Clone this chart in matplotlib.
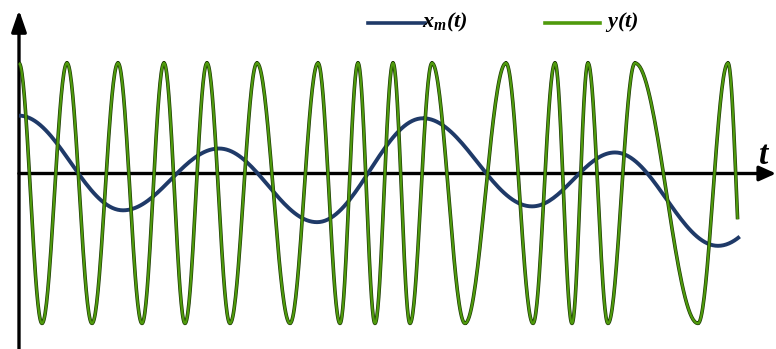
import numpy as np
import matplotlib
matplotlib.use("Agg")
import matplotlib.pyplot as plt
from matplotlib.lines import Line2D

# ---- data (time units, signal units; axis at 0) ----
# modulated signal y(t): times of successive extrema (top, bottom, top, ...)
green_ext_t = [0, 23, 48, 73, 99, 123, 145, 166, 188, 211, 238, 271, 299, 321,
               339, 356, 374, 391, 413, 446, 487, 514, 536, 553, 569, 589, 616,
               679, 709, 726]
green_top = 0.84
green_bottom = -1.14
green_t_end = 719

# message signal x_m(t): extrema times and values
blue_ext_t = [0, 104, 200, 298, 404, 513, 596, 699, 805]
blue_ext_v = [0.44, -0.28, 0.19, -0.37, 0.42, -0.25, 0.16, -0.55, 0.15]
blue_t_end = 721

legend_labels = [r"$\mathbfit{x_{m}(t)}$", r"$\mathbfit{y(t)}$"]
axis_label = r"$\mathbfit{t}$"

BLUE = "#1f3a68"
GREEN = "#4f9a0c"
EDGE = "#1d3a06"

plt.rcParams["mathtext.fontset"] = "custom"
plt.rcParams["mathtext.rm"] = "Liberation Serif"
plt.rcParams["mathtext.it"] = "Liberation Serif:italic"
plt.rcParams["mathtext.bf"] = "Liberation Serif:bold"
plt.rcParams["mathtext.bfit"] = "Liberation Serif:italic:bold"


def half_cos_curve(ext_t, ext_v, t_end, n=40):
    ts, vs = [], []
    for i in range(len(ext_t) - 1):
        t0, t1 = ext_t[i], ext_t[i + 1]
        v0, v1 = ext_v[i], ext_v[i + 1]
        s = np.linspace(0, 1, n)
        tt = t0 + (t1 - t0) * s
        vv = v0 + (v1 - v0) * (1 - np.cos(np.pi * s)) / 2
        ts.append(tt)
        vs.append(vv)
    t = np.concatenate(ts)
    v = np.concatenate(vs)
    m = t <= t_end
    return t[m], v[m]


green_ext_v = [green_top if i % 2 == 0 else green_bottom for i in range(len(green_ext_t))]
gt, gv = half_cos_curve(green_ext_t, green_ext_v, green_t_end)
bt, bv = half_cos_curve(blue_ext_t, blue_ext_v, blue_t_end)

W, H = 776, 349
fig = plt.figure(figsize=(W / 100, H / 100), dpi=100)
ax = fig.add_axes([0, 0, 1, 1])
ax.set_xlim(-19, W - 19)
ax.set_ylim((173.5 - H) / 131.5, 173.5 / 131.5)
ax.axis("off")

# axes with arrows
ax.annotate("", xy=(0, 163.5 / 131.5), xytext=(0, (173.5 - 352) / 131.5),
            arrowprops=dict(arrowstyle="-|>,head_length=1.3,head_width=0.45",
                            lw=2.4, color="black", shrinkA=0, shrinkB=0),
            zorder=1)
ax.annotate("", xy=(757, 0), xytext=(0, 0),
            arrowprops=dict(arrowstyle="-|>,head_length=1.0,head_width=0.45",
                            lw=2.4, color="black", shrinkA=0, shrinkB=0),
            zorder=1)
ax.text(739, 0.07, axis_label, fontsize=24, ha="left", va="baseline", color="black")

ax.plot(bt, bv, color=BLUE, lw=2.8, solid_capstyle="butt", zorder=3)
ax.plot(gt, gv, color=EDGE, lw=2.6, solid_capstyle="butt", zorder=4)
ax.plot(gt, gv, color=GREEN, lw=1.6, solid_capstyle="butt", zorder=5)

# legend (manual, figure pixels)
def px(x, y):
    return x / W, 1 - y / H

for (x0, x1), col, lab, tx in [((368, 425), BLUE, legend_labels[0], 422),
                               ((545, 600), GREEN, legend_labels[1], 605)]:
    (a, b), (c, d) = px(x0, 23), px(x1, 23)
    fig.add_artist(Line2D([a, c], [b, d], color=col, lw=2.6, transform=fig.transFigure))
    fig.text(*px(tx, 22), lab, fontsize=16, ha="left", va="center", color="black")

fig.savefig("out.png", dpi=100)
